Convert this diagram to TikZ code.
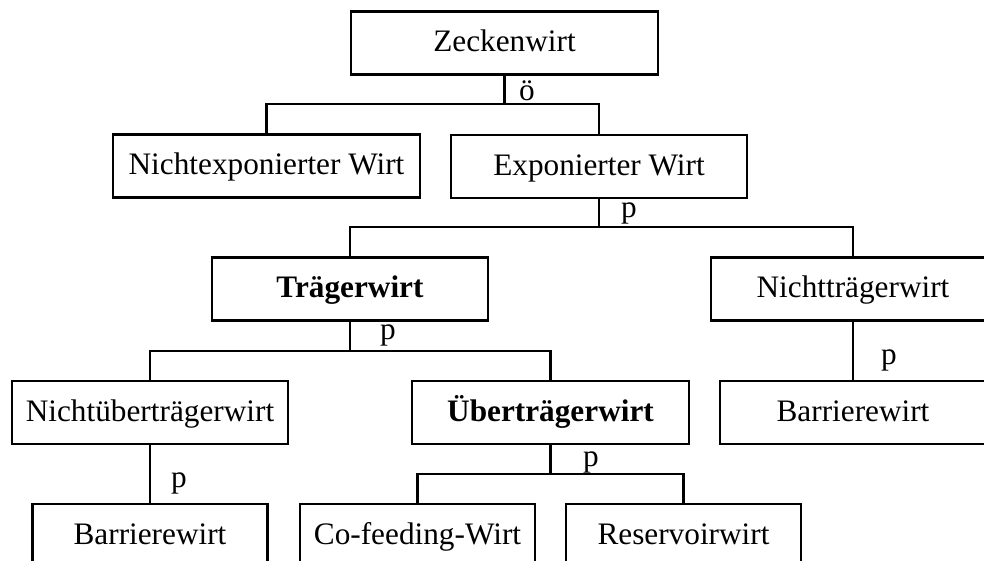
\documentclass[tikz,border=0pt]{standalone}
\usepackage{fontspec}
\setmainfont{Liberation Serif}
\def\boxh{1.26cm}
\tikzset{
  wirt/.style={draw, line width=1.4pt, inner sep=0pt, minimum height=\boxh,
    text height=14pt, text depth=3.8pt},
  ast/.style={line width=1.4pt},
  lbl/.style={anchor=base, inner sep=0pt}
}

\begin{document}
\begin{tikzpicture}[x=0.02cm, y=-0.02cm, every node/.style={font=\fontsize{17.8}{20}\selectfont}]
    \useasboundingbox (0,0) rectangle (984,561);
    \clip (0,0) rectangle (984,561);

    % Ebene 1 und 2
    \node[wirt, minimum width=6.14cm] (zecken) at (504.5,43) {Zeckenwirt};
    \node[wirt, minimum width=6.14cm] (nichtexp) at (266.5,166) {Nichtexponierter Wirt};
    \node[wirt, minimum width=5.92cm] (exp) at (599,166.5) {Exponierter Wirt};

    % Ebene 3
    \node[wirt, minimum width=5.52cm] (traeger) at (350,289) {\textbf{Trägerwirt}};
    \node[wirt, minimum width=5.68cm] (nichttraeger) at (853,289) {Nichtträgerwirt};

    % Ebene 4
    \node[wirt, minimum width=5.52cm] (nichtueber) at (150,412.5) {Nichtüberträgerwirt};
    \node[wirt, minimum width=5.54cm] (ueber) at (550.5,412.5) {\textbf{Überträgerwirt}};
    \node[wirt, minimum width=5.32cm] (barriereB) at (853,412.5) {Barrierewirt};

    % Ebene 5
    \node[wirt, minimum width=4.7cm] (barriereA) at (150,535.5) {Barrierewirt};
    \node[wirt, minimum width=4.7cm] (cofeed) at (417.5,535.5) {Co-feeding-Wirt};
    \node[wirt, minimum width=4.7cm] (reservoir) at (683.5,535.5) {Reservoirwirt};

    % Verzweigungen
    \coordinate (j1) at (504.5,104);
    \coordinate (j2) at (599,227);
    \coordinate (j3) at (350,351);
    \coordinate (j4) at (550.5,474);
    \draw[ast] (zecken.south) -- (j1);
    \draw[ast] (nichtexp.north) |- (j1) -| (exp.north);
    \draw[ast] (exp.south) -- (j2);
    \draw[ast] (traeger.north) |- (j2) -| (nichttraeger.north);
    \draw[ast] (traeger.south) -- (j3);
    \draw[ast] (nichtueber.north) |- (j3) -| (ueber.north);
    \draw[ast] (ueber.south) -- (j4);
    \draw[ast] (cofeed.north) |- (j4) -| (reservoir.north);
    \draw[ast] (nichttraeger.south) -- (barriereB.north);
    \draw[ast] (nichtueber.south) -- (barriereA.north);

    % Beschriftungen
    \node[lbl] (lblOe) at (527,100) {ö};
    \node[lbl] (lblExp) at (629,217) {p};
    \node[lbl] (lblTraeger) at (388,339) {p};
    \node[lbl] (lblUeber) at (591,466) {p};
    \node[lbl] (lblNichttraeger) at (889,364) {p};
    \node[lbl] (lblNichtueber) at (179,487) {p};
\end{tikzpicture}
\end{document}
